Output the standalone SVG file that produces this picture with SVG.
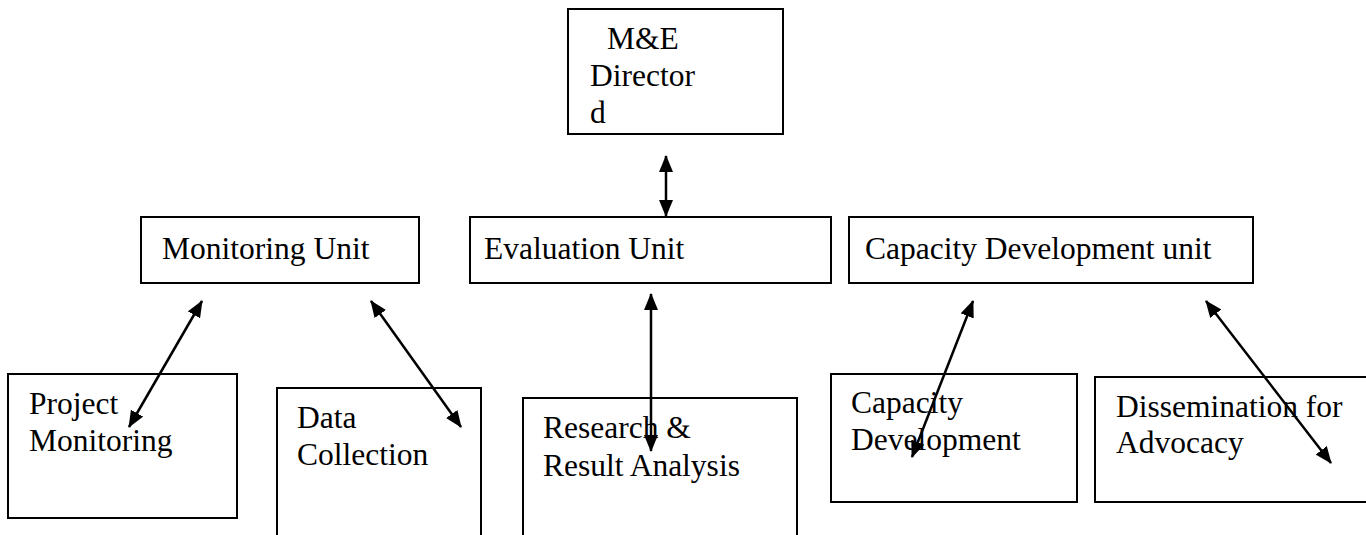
<svg xmlns="http://www.w3.org/2000/svg" width="1366" height="535" viewBox="0 0 1366 535">
<style>
.box{fill:#fff;stroke:#000;stroke-width:2}
.t{font-family:"Liberation Serif","Times New Roman",serif;font-size:31.5px;fill:#000}
.c{stroke:#000;stroke-width:2.5;fill:none;marker-start:url(#ah);marker-end:url(#ah)}
</style>
<defs>
<marker id="ah" viewBox="0 0 17 14" refX="16" refY="7" markerWidth="17" markerHeight="14" markerUnits="userSpaceOnUse" orient="auto-start-reverse">
<path d="M0,0 L17,7 L0,14 Z" fill="#000"/>
</marker>
</defs>
<rect width="1366" height="535" fill="#fff"/>
<g id="n-director"><rect class="box" x="568" y="9" width="215" height="125"/>
<text class="t" x="607" y="49">M&amp;E</text><text class="t" x="590" y="86">Director</text><text class="t" x="590" y="123">d</text></g>
<g id="n-monitoring"><rect class="box" x="141" y="217" width="278" height="66"/><text class="t" x="162" y="259">Monitoring Unit</text></g>
<g id="n-evaluation"><rect class="box" x="470" y="217" width="361" height="66"/><text class="t" x="484" y="259">Evaluation Unit</text></g>
<g id="n-capacityunit"><rect class="box" x="849" y="217" width="404" height="66"/><text class="t" x="865" y="259">Capacity Development unit</text></g>
<g id="n-project"><rect class="box" x="8" y="374" width="229" height="144"/><text class="t" x="29" y="414">Project</text><text class="t" x="29" y="451">Monitoring</text></g>
<g id="n-data"><rect class="box" x="277" y="388" width="204" height="160"/><text class="t" x="297" y="428">Data</text><text class="t" x="297" y="465">Collection</text></g>
<g id="n-research"><rect class="box" x="523" y="398" width="274" height="150"/><text class="t" x="543" y="438">Research &amp;</text><text class="t" x="543" y="476">Result Analysis</text></g>
<g id="n-capdev"><rect class="box" x="831" y="374" width="246" height="128"/><text class="t" x="851" y="413">Capacity</text><text class="t" x="851" y="450">Development</text></g>
<g id="n-dissemination"><rect class="box" x="1095" y="377" width="280" height="125"/><text class="t" x="1116" y="417">Dissemination for</text><text class="t" x="1116" y="453">Advocacy</text></g>
<g id="connectors">
<line class="c" x1="666" y1="156" x2="666" y2="216"/>
<line class="c" x1="202" y1="301" x2="129" y2="427"/>
<line class="c" x1="371" y1="301" x2="461" y2="427"/>
<line class="c" x1="651" y1="294" x2="651" y2="451"/>
<line class="c" x1="973" y1="301" x2="912" y2="457"/>
<line class="c" x1="1206" y1="301" x2="1331" y2="463"/>
</g>
</svg>
